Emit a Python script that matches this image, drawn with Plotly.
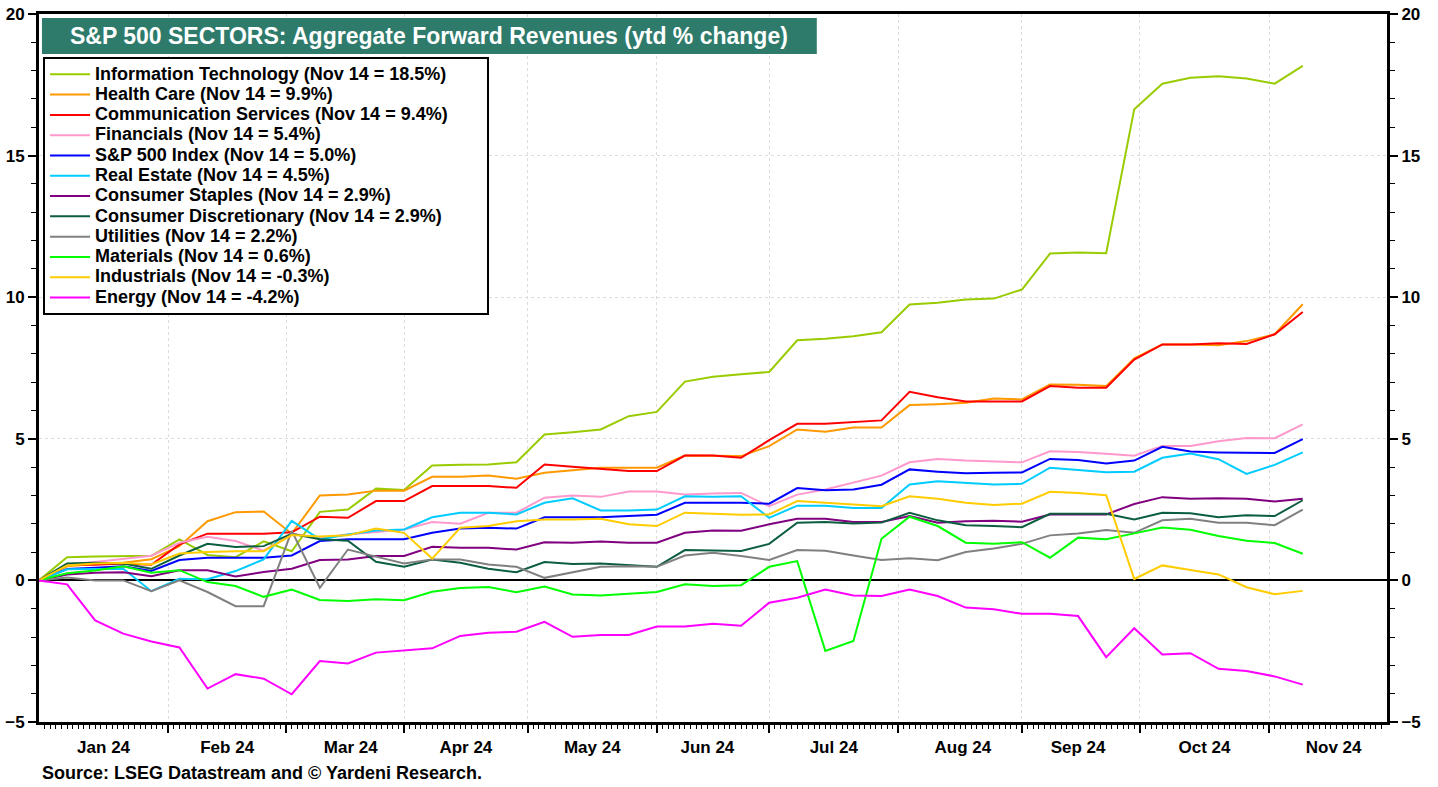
"""
S&P 500 sectors: aggregate forward revenues, ytd % change (weekly).
"""

import pandas as pd
import plotly.graph_objects as go

# weekly observations, first one is the base week (0%)
dates = pd.date_range("2024-01-01", periods=46, freq="W-MON")

info_tech = [0, 0.82, 0.84, 0.86, 0.87, 1.45, 0.9, 0.82, 1.38, 1.03, 2.42, 2.5, 3.24, 3.19, 4.06, 4.08,
             4.09, 4.17, 5.15, 5.23, 5.33, 5.8, 5.95, 7.02, 7.19, 7.28, 7.36, 8.48, 8.53, 8.62, 8.76, 9.74,
             9.8, 9.92, 9.95, 10.27, 11.54, 11.58, 11.55, 16.64, 17.54, 17.75, 17.8, 17.72, 17.54, 18.17]
health_care = [0, 0.5, 0.58, 0.62, 0.75, 1.21, 2.09, 2.41, 2.43, 1.65, 3.0, 3.03, 3.17, 3.17, 3.66, 3.66,
               3.7, 3.59, 3.8, 3.88, 3.98, 3.98, 3.98, 4.41, 4.41, 4.39, 4.74, 5.33, 5.25, 5.4, 5.4, 6.19,
               6.22, 6.27, 6.42, 6.39, 6.92, 6.91, 6.86, 7.84, 8.33, 8.33, 8.3, 8.45, 8.69, 9.75]
comm_services = [0, 0.55, 0.55, 0.6, 0.55, 1.27, 1.65, 1.65, 1.65, 1.7, 2.25, 2.21, 2.8, 2.8, 3.33, 3.33,
                 3.33, 3.27, 4.09, 4.01, 3.94, 3.86, 3.86, 4.41, 4.41, 4.33, 4.95, 5.53, 5.53, 5.6, 5.65, 6.66,
                 6.47, 6.32, 6.32, 6.32, 6.86, 6.8, 6.8, 7.8, 8.33, 8.33, 8.37, 8.35, 8.69, 9.48]
financials = [0, 0.55, 0.65, 0.75, 0.87, 1.33, 1.54, 1.39, 1.05, 1.65, 1.5, 1.62, 1.72, 1.8, 2.06, 2.0,
              2.39, 2.39, 2.92, 3.0, 2.95, 3.14, 3.14, 3.03, 3.07, 3.09, 2.62, 3.03, 3.21, 3.45, 3.7, 4.17,
              4.29, 4.23, 4.21, 4.17, 4.56, 4.53, 4.47, 4.4, 4.75, 4.75, 4.91, 5.03, 5.02, 5.51]
sp500 = [0, 0.4, 0.45, 0.5, 0.33, 0.72, 0.8, 0.8, 0.8, 0.88, 1.39, 1.45, 1.45, 1.45, 1.68, 1.83,
         1.86, 1.83, 2.23, 2.23, 2.23, 2.27, 2.32, 2.74, 2.74, 2.74, 2.71, 3.26, 3.18, 3.21, 3.38, 3.92,
         3.84, 3.78, 3.8, 3.81, 4.29, 4.25, 4.13, 4.23, 4.72, 4.55, 4.52, 4.5, 4.5, 4.99]
real_estate = [0, 0.39, 0.4, 0.41, -0.38, 0.06, 0.04, 0.33, 0.74, 2.1, 1.45, 1.62, 1.76, 1.8, 2.23, 2.39,
               2.39, 2.33, 2.74, 2.9, 2.47, 2.47, 2.5, 2.97, 2.95, 2.97, 2.21, 2.64, 2.64, 2.56, 2.56, 3.39,
               3.5, 3.45, 3.39, 3.41, 3.98, 3.9, 3.82, 3.84, 4.33, 4.48, 4.28, 3.76, 4.08, 4.52]
staples = [0, 0.21, 0.27, 0.29, 0.15, 0.36, 0.36, 0.14, 0.3, 0.41, 0.72, 0.74, 0.86, 0.86, 1.19, 1.15,
           1.15, 1.09, 1.35, 1.33, 1.37, 1.33, 1.33, 1.68, 1.76, 1.75, 1.98, 2.18, 2.18, 2.06, 2.06, 2.27,
           2.04, 2.09, 2.11, 2.07, 2.33, 2.33, 2.33, 2.7, 2.94, 2.88, 2.9, 2.88, 2.79, 2.88]
discretionary = [0, 0.6, 0.62, 0.6, 0.41, 0.88, 1.29, 1.18, 1.21, 1.65, 1.45, 1.4, 0.66, 0.48, 0.74, 0.62,
                 0.41, 0.29, 0.65, 0.58, 0.6, 0.53, 0.48, 1.07, 1.05, 1.04, 1.29, 2.04, 2.06, 2.01, 2.04, 2.39,
                 2.12, 1.95, 1.92, 1.88, 2.35, 2.35, 2.35, 2.15, 2.39, 2.37, 2.23, 2.3, 2.27, 2.83]
utilities = [0, 0.1, 0.0, 0.0, -0.38, 0.0, -0.41, -0.91, -0.91, 1.75, -0.26, 1.09, 0.84, 0.6, 0.74, 0.74,
             0.56, 0.48, 0.09, 0.29, 0.48, 0.5, 0.48, 0.88, 0.98, 0.86, 0.72, 1.07, 1.05, 0.88, 0.72, 0.78,
             0.71, 1.0, 1.13, 1.29, 1.59, 1.66, 1.78, 1.68, 2.12, 2.18, 2.04, 2.04, 1.95, 2.5]
materials = [0, 0.25, 0.35, 0.5, 0.27, 0.36, -0.06, -0.2, -0.58, -0.32, -0.69, -0.73, -0.67, -0.7, -0.4, -0.27,
             -0.23, -0.42, -0.22, -0.5, -0.53, -0.46, -0.41, -0.14, -0.2, -0.17, 0.48, 0.68, -2.49, -2.14, 1.47, 2.25,
             1.92, 1.33, 1.29, 1.35, 0.8, 1.51, 1.45, 1.66, 1.87, 1.79, 1.57, 1.4, 1.32, 0.94]
industrials = [0, 0.53, 0.6, 0.62, 0.56, 0.95, 1.0, 1.03, 1.03, 1.6, 1.55, 1.59, 1.83, 1.68, 0.77, 1.86,
               1.92, 2.09, 2.15, 2.15, 2.18, 1.98, 1.92, 2.39, 2.35, 2.32, 2.33, 2.8, 2.74, 2.67, 2.62, 2.97,
               2.88, 2.74, 2.66, 2.71, 3.13, 3.09, 3.01, 0.05, 0.53, 0.37, 0.21, -0.24, -0.49, -0.37]
energy = [0, -0.14, -1.41, -1.88, -2.16, -2.37, -3.82, -3.31, -3.47, -4.02, -2.85, -2.93, -2.55, -2.47, -2.4, -1.96,
          -1.85, -1.81, -1.46, -1.99, -1.93, -1.93, -1.63, -1.63, -1.53, -1.6, -0.79, -0.61, -0.32, -0.53, -0.55, -0.32,
          -0.55, -0.96, -1.02, -1.18, -1.18, -1.26, -2.71, -1.69, -2.62, -2.57, -3.12, -3.2, -3.39, -3.68]

series = [
    ("Information Technology (Nov 14 = 18.5%)", info_tech, "#99CC00"),
    ("Health Care (Nov 14 = 9.9%)", health_care, "#FF9900"),
    ("Communication Services (Nov 14 = 9.4%)", comm_services, "#FF0000"),
    ("Financials (Nov 14 = 5.4%)", financials, "#FF99CC"),
    ("S&P 500 Index (Nov 14 = 5.0%)", sp500, "#0000FF"),
    ("Real Estate (Nov 14 = 4.5%)", real_estate, "#00CCFF"),
    ("Consumer Staples (Nov 14 = 2.9%)", staples, "#800080"),
    ("Consumer Discretionary (Nov 14 = 2.9%)", discretionary, "#0B5E3F"),
    ("Utilities (Nov 14 = 2.2%)", utilities, "#808080"),
    ("Materials (Nov 14 = 0.6%)", materials, "#00FF00"),
    ("Industrials (Nov 14 = -0.3%)", industrials, "#FFCC00"),
    ("Energy (Nov 14 = -4.2%)", energy, "#FF00FF"),
]

FONT = "Arial, Liberation Sans, sans-serif"
TEAL = "#2E7B6C"

fig = go.Figure()
for i, (name, values, color) in enumerate(series):
    # trailing blanks on the first entry widen the legend box like the original
    pad = "\u00a0" * 7 if i == 0 else ""
    fig.add_trace(
        go.Scatter(
            x=dates,
            y=values,
            # legend rows are spaced by the (smaller) legend font size, text drawn larger
            name=f'<span style="font-size:18px">{name}{pad}</span>',
            mode="lines",
            line=dict(color=color, width=2),
        )
    )

# invisible trace so the right-hand axis gets drawn
fig.add_trace(
    go.Scatter(
        x=dates[:1], y=[0], yaxis="y2", mode="lines",
        line=dict(width=0), showlegend=False, hoverinfo="skip",
    )
)

# title box
fig.add_shape(
    type="rect", xref="paper", yref="paper",
    x0=0.0022, x1=0.577, y0=0.9435, y1=0.9944,
    fillcolor=TEAL, line=dict(width=0), layer="above",
)
fig.add_annotation(
    text="S&P 500 SECTORS: Aggregate Forward Revenues (ytd % change)",
    xref="paper", yref="paper", x=0.2896, y=0.969,
    xanchor="center", yanchor="middle", showarrow=False,
    font=dict(family=FONT, size=23, color="white", weight="bold"),
)
fig.add_annotation(
    text="Source: LSEG Datastream and © Yardeni Research.",
    xref="paper", yref="paper", x=0.001, y=-0.072,
    xanchor="left", yanchor="middle", showarrow=False,
    font=dict(family=FONT, size=18, color="black", weight="bold"),
)

yaxis_common = dict(
    range=[-5, 20],
    tickmode="linear",
    tick0=0,
    dtick=5,
    ticks="outside",
    ticklen=8,
    tickwidth=2,
    tickcolor="black",
    tickfont=dict(family=FONT, size=17, color="black", weight="bold"),
    showline=True,
    linewidth=3,
    linecolor="black",
    automargin=False,
    minor=dict(dtick=1, ticks="outside", ticklen=5, tickwidth=1, tickcolor="black", showgrid=False),
)

fig.update_layout(
    width=1438,
    height=787,
    margin=dict(l=39, r=51, t=14, b=65, autoexpand=False),
    plot_bgcolor="white",
    paper_bgcolor="white",
    font=dict(family=FONT, color="black"),
    showlegend=True,
    legend=dict(
        x=0.003,
        y=0.939,
        xanchor="left",
        yanchor="top",
        bgcolor="white",
        bordercolor="black",
        borderwidth=2,
        itemwidth=40,
        font=dict(family=FONT, size=13.3, color="black", weight="bold"),
    ),
    xaxis=dict(
        type="date",
        range=["2024-01-01", "2024-11-30"],
        rangebreaks=[dict(bounds=["sat", "mon"])],
        tickmode="linear",
        tick0="2024-01-01",
        dtick="M1",
        ticklabelmode="period",
        tickformat="%b %y",
        ticks="outside",
        ticklen=8,
        tickwidth=2,
        tickcolor="black",
        tickfont=dict(family=FONT, size=17, color="black", weight="bold"),
        showgrid=True,
        gridcolor="#DCDCDC",
        griddash="dot",
        gridwidth=1,
        showline=True,
        linewidth=3,
        linecolor="black",
        mirror=True,
        automargin=False,
        minor=dict(dtick=86400000, ticks="outside", ticklen=4, tickwidth=1, tickcolor="black", showgrid=False),
    ),
    yaxis=dict(
        **yaxis_common,
        showgrid=True,
        gridcolor="#DCDCDC",
        griddash="dot",
        gridwidth=1,
        zeroline=True,
        zerolinecolor="black",
        zerolinewidth=2,
    ),
    yaxis2=dict(
        **yaxis_common,
        overlaying="y",
        side="right",
        showgrid=False,
        zeroline=False,
    ),
)

# the page body has a default 8px margin; drop it so the figure sits at the window corner
fig.write_html(
    "out.html",
    config={"displayModeBar": False},
    post_script="document.body.style.margin='0';document.body.style.overflow='hidden';",
)
